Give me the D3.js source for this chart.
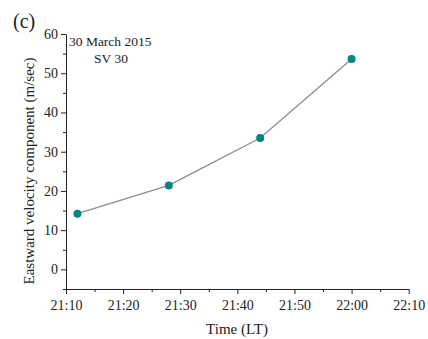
<!DOCTYPE html>
<html>
<head>
<meta charset="utf-8">
<script src="https://cdn.jsdelivr.net/npm/d3@7"></script>
<style>
  body { margin: 0; background: #fff; }
  text { font-family: "Liberation Serif", "Times New Roman", serif; fill: #222; }
</style>
</head>
<body>
<svg id="chart" width="428" height="339"></svg>
<script>
// data
const times = ["21:12", "21:28", "21:44", "22:00"];
const velocity = [14.2, 21.4, 33.5, 53.6];
const xTicks = ["21:10", "21:20", "21:30", "21:40", "21:50", "22:00", "22:10"];
const yTicks = [0, 10, 20, 30, 40, 50, 60];

const toMin = (s) => {
  const [h, m] = s.split(":").map(Number);
  return h * 60 + m;
};

const svg = d3.select("#chart");
const margin = { left: 66, right: 19.3, top: 34, bottom: 50 };
const width = 428, height = 339;

const x = d3.scaleLinear()
  .domain([toMin("21:10"), toMin("22:10")])
  .range([margin.left, width - margin.right]);
const y = d3.scaleLinear()
  .domain([-5, 60])
  .range([height - margin.bottom, margin.top]);

const fmt = (v) => {
  const h = Math.floor(v / 60), m = v % 60;
  return h + ":" + String(m).padStart(2, "0");
};

// x axis, major + minor ticks
const gx = svg.append("g").attr("transform", `translate(0,${y(-5)})`);
gx.call(d3.axisBottom(x)
  .tickValues(d3.range(toMin("21:10"), toMin("22:10") + 1, 5))
  .tickFormat((d) => (xTicks.includes(fmt(d)) ? fmt(d) : ""))
  .tickSizeOuter(0));
gx.selectAll(".tick line").attr("y2", (d) => (xTicks.includes(fmt(d)) ? 5 : 3));
gx.selectAll(".tick text").attr("dy", "1.05em").attr("y", 6);

// y axis
const gy = svg.append("g").attr("transform", `translate(${x(toMin("21:10"))},0)`);
gy.call(d3.axisLeft(y)
  .tickValues(d3.range(-5, 61, 5))
  .tickFormat((d) => (yTicks.includes(d) ? d : ""))
  .tickSizeOuter(0));
gy.selectAll(".tick line").attr("x2", (d) => (yTicks.includes(d) ? -5 : -3));
gy.selectAll(".tick text").attr("x", -8);

svg.selectAll(".domain, .tick line").attr("stroke", "#222").attr("stroke-width", 1);
svg.selectAll(".tick text")
  .attr("font-family", "Liberation Serif")
  .attr("font-size", 14)
  .attr("fill", "#222");

// line and markers
const pts = times.map((t, i) => ({ t: toMin(t), v: velocity[i] }));
svg.append("path")
  .datum(pts)
  .attr("fill", "none")
  .attr("stroke", "#8c8c8c")
  .attr("stroke-width", 1.3)
  .attr("d", d3.line().x((d) => x(d.t)).y((d) => y(d.v)));

svg.selectAll("circle")
  .data(pts)
  .enter()
  .append("circle")
  .attr("cx", (d) => x(d.t))
  .attr("cy", (d) => y(d.v))
  .attr("r", 4)
  .attr("fill", "#008780");

// labels
svg.append("text")
  .attr("x", 237).attr("y", 334)
  .attr("text-anchor", "middle")
  .attr("font-size", 15)
  .text("Time (LT)");

svg.append("text")
  .attr("transform", "translate(34,171) rotate(-90)")
  .attr("text-anchor", "middle")
  .attr("font-size", 15)
  .text("Eastward velocity component (m/sec)");

svg.append("text")
  .attr("x", 13).attr("y", 28)
  .attr("font-size", 20)
  .text("(c)");

svg.append("text")
  .attr("x", 69).attr("y", 46)
  .attr("font-size", 13.5)
  .text("30 March 2015");
svg.append("text")
  .attr("x", 111).attr("y", 63)
  .attr("text-anchor", "middle")
  .attr("font-size", 13.5)
  .text("SV 30");
</script>
</body>
</html>
